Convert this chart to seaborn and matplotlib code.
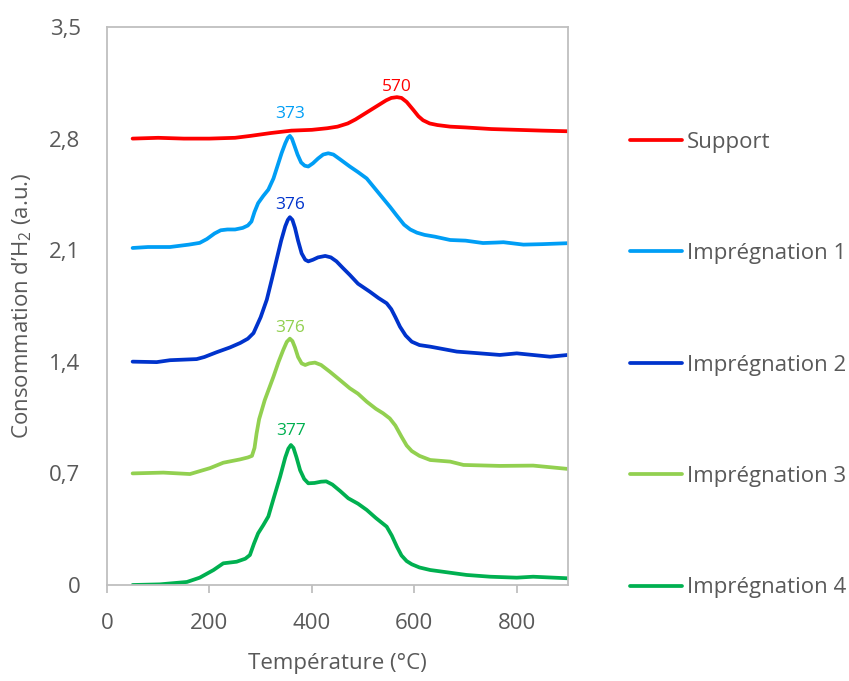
import numpy as np
import pandas as pd
import matplotlib
matplotlib.use("Agg")
import matplotlib.pyplot as plt
import seaborn as sns

# ---- data ----
support_T = [50, 100, 150, 200, 250, 280, 320, 360, 400, 430, 450, 470, 485, 500, 515, 530, 545, 555, 566, 575, 585, 598, 608, 617, 630, 645, 670, 700, 750, 800, 850, 900]
support_v = [2.80, 2.805, 2.80, 2.80, 2.805, 2.817, 2.835, 2.85, 2.855, 2.865, 2.875, 2.895, 2.92, 2.95, 2.98, 3.01, 3.04, 3.055, 3.06, 3.055, 3.03, 2.98, 2.94, 2.915, 2.895, 2.885, 2.875, 2.87, 2.86, 2.855, 2.85, 2.846]

imp1_T = [50, 80, 123, 160, 181, 195, 210, 222, 235, 250, 265, 275, 282, 288, 295, 305, 315, 325, 333, 341, 348, 353, 357, 361, 366, 372, 379, 386, 393, 402, 412, 422, 432, 442, 455, 474, 490, 507, 530, 553, 565, 580, 592, 605, 620, 640, 670, 700, 734, 760, 774, 813, 850, 900]
imp1_v = [2.114, 2.12, 2.12, 2.135, 2.146, 2.17, 2.205, 2.225, 2.23, 2.23, 2.24, 2.255, 2.28, 2.34, 2.395, 2.44, 2.48, 2.55, 2.63, 2.71, 2.77, 2.805, 2.817, 2.80, 2.755, 2.70, 2.65, 2.63, 2.625, 2.645, 2.675, 2.70, 2.708, 2.70, 2.67, 2.625, 2.59, 2.55, 2.46, 2.37, 2.32, 2.26, 2.23, 2.21, 2.196, 2.185, 2.164, 2.16, 2.145, 2.148, 2.15, 2.135, 2.138, 2.144]

imp2_T = [50, 97, 123, 175, 190, 214, 240, 260, 275, 286, 293, 300, 312, 322, 331, 340, 348, 353, 357, 362, 367, 373, 380, 387, 393, 402, 412, 426, 437, 448, 460, 474, 490, 513, 530, 546, 555, 563, 572, 583, 595, 610, 631, 683, 720, 767, 800, 865, 900]
imp2_v = [1.401, 1.398, 1.41, 1.417, 1.43, 1.46, 1.49, 1.518, 1.545, 1.58, 1.63, 1.68, 1.79, 1.92, 2.04, 2.16, 2.25, 2.29, 2.307, 2.29, 2.24, 2.16, 2.08, 2.04, 2.03, 2.04, 2.055, 2.064, 2.055, 2.03, 1.99, 1.945, 1.89, 1.84, 1.80, 1.767, 1.73, 1.68, 1.62, 1.565, 1.526, 1.505, 1.495, 1.464, 1.455, 1.443, 1.453, 1.432, 1.443]

imp3_T = [50, 110, 162, 201, 227, 260, 275, 283, 288, 292, 297, 308, 325, 335, 344, 351, 357, 362, 367, 373, 380, 387, 395, 406, 418, 435, 455, 474, 490, 507, 525, 539, 552, 563, 575, 585, 595, 610, 631, 670, 696, 767, 832, 900]
imp3_v = [0.70, 0.705, 0.696, 0.733, 0.767, 0.788, 0.80, 0.81, 0.86, 0.95, 1.04, 1.16, 1.307, 1.40, 1.474, 1.525, 1.545, 1.53, 1.49, 1.43, 1.39, 1.38, 1.39, 1.395, 1.38, 1.338, 1.285, 1.234, 1.20, 1.15, 1.105, 1.077, 1.045, 1.00, 0.93, 0.875, 0.84, 0.81, 0.784, 0.774, 0.753, 0.747, 0.749, 0.728]

imp4_T = [50, 103, 156, 181, 208, 227, 253, 270, 279, 287, 295, 305, 315, 325, 338, 348, 354, 359, 364, 370, 377, 385, 393, 405, 418, 428, 440, 455, 471, 490, 507, 525, 546, 556, 566, 575, 585, 595, 610, 631, 702, 748, 800, 832, 900]
imp4_v = [0.0, 0.004, 0.019, 0.046, 0.094, 0.136, 0.146, 0.165, 0.188, 0.26, 0.324, 0.375, 0.43, 0.54, 0.68, 0.80, 0.855, 0.878, 0.86, 0.80, 0.72, 0.665, 0.638, 0.64, 0.648, 0.65, 0.63, 0.59, 0.544, 0.51, 0.471, 0.42, 0.366, 0.31, 0.24, 0.185, 0.15, 0.13, 0.11, 0.094, 0.063, 0.052, 0.046, 0.052, 0.042]

series_names = ["Support", "Imprégnation 1", "Imprégnation 2", "Imprégnation 3", "Imprégnation 4"]
peak_labels = ["570", "373", "376", "376", "377"]

x_ticks = [0, 200, 400, 600, 800]
y_ticks = [0, 0.7, 1.4, 2.1, 2.8, 3.5]
y_tick_labels = ["0", "0,7", "1,4", "2,1", "2,8", "3,5"]

# ---- style ----
series_colors = ["#FF0000", "#009EF5", "#0033CC", "#92D050", "#00B050"]
label_offsets_pt = [7.5, 16.0, 8.6, 8.0, 10.0]

# ---- table ----
Ts = [support_T, imp1_T, imp2_T, imp3_T, imp4_T]
Vs = [support_v, imp1_v, imp2_v, imp3_v, imp4_v]
frames = []
for name, t, v in zip(series_names, Ts, Vs):
    frames.append(pd.DataFrame({"T": t, "v": v, "serie": name}))
df = pd.concat(frames, ignore_index=True)

sns.set_theme(style="white")
plt.rcParams["font.family"] = ["Open Sans", "DejaVu Sans"]
plt.rcParams["mathtext.fontset"] = "custom"
plt.rcParams["mathtext.rm"] = "Open Sans"
plt.rcParams["mathtext.it"] = "Open Sans:italic"
plt.rcParams["mathtext.bf"] = "Open Sans:bold"

grey = "#595959"
fs = 16
fig = plt.figure(figsize=(8.49, 6.81), dpi=100)
ax = fig.add_axes([107/849, 1-585/681, (568-107)/849, (585-27)/681])

sns.lineplot(data=df, x="T", y="v", hue="serie", hue_order=series_names,
             palette=dict(zip(series_names, series_colors)), linewidth=2.7,
             sort=False, estimator=None, ax=ax, legend=True)
for ln in ax.get_lines():
    ln.set_solid_joinstyle("round")
    ln.set_solid_capstyle("round")

# peak annotations
for t, v, lab, col, off in zip(Ts, Vs, peak_labels, series_colors, label_offsets_pt):
    i = int(np.argmax(v))
    ax.annotate(lab, (t[i], v[i]), xytext=(0, off), textcoords="offset points",
                ha="center", va="center", color=col, fontsize=12.5)

ax.set_xlim(0, 900)
ax.set_ylim(0, 3.5)
ax.set_xticks(x_ticks)
ax.set_xticklabels([str(x) for x in x_ticks])
ax.set_yticks(y_ticks)
ax.set_yticklabels(y_tick_labels)
ax.tick_params(axis="x", length=6, width=1.3, color="#BFBFBF", pad=14, labelsize=fs, labelcolor=grey, direction="out", bottom=True)
ax.tick_params(axis="y", length=0, pad=19, labelsize=fs, labelcolor=grey, left=True)
for s in ax.spines.values():
    s.set_visible(True)
    s.set_color("#BFBFBF")
    s.set_linewidth(1.3)

ax.set_xlabel("Température (°C)", fontsize=fs, color=grey, labelpad=14)
ax.set_ylabel("Consommation d’H$_\\mathregular{2}$ (a.u.)", fontsize=fs, color=grey, labelpad=11)

leg = ax.legend(loc="center left", bbox_to_anchor=(630/849, 1-365/681),
                bbox_transform=fig.transFigure, frameon=False, fontsize=fs,
                handlelength=2.35, handletextpad=0.22, labelspacing=4.07,
                borderpad=0, borderaxespad=0)
for txt in leg.get_texts():
    txt.set_color(grey)
for line in leg.get_lines():
    line.set_linewidth(2.7)

fig.savefig("out.png", dpi=100)
